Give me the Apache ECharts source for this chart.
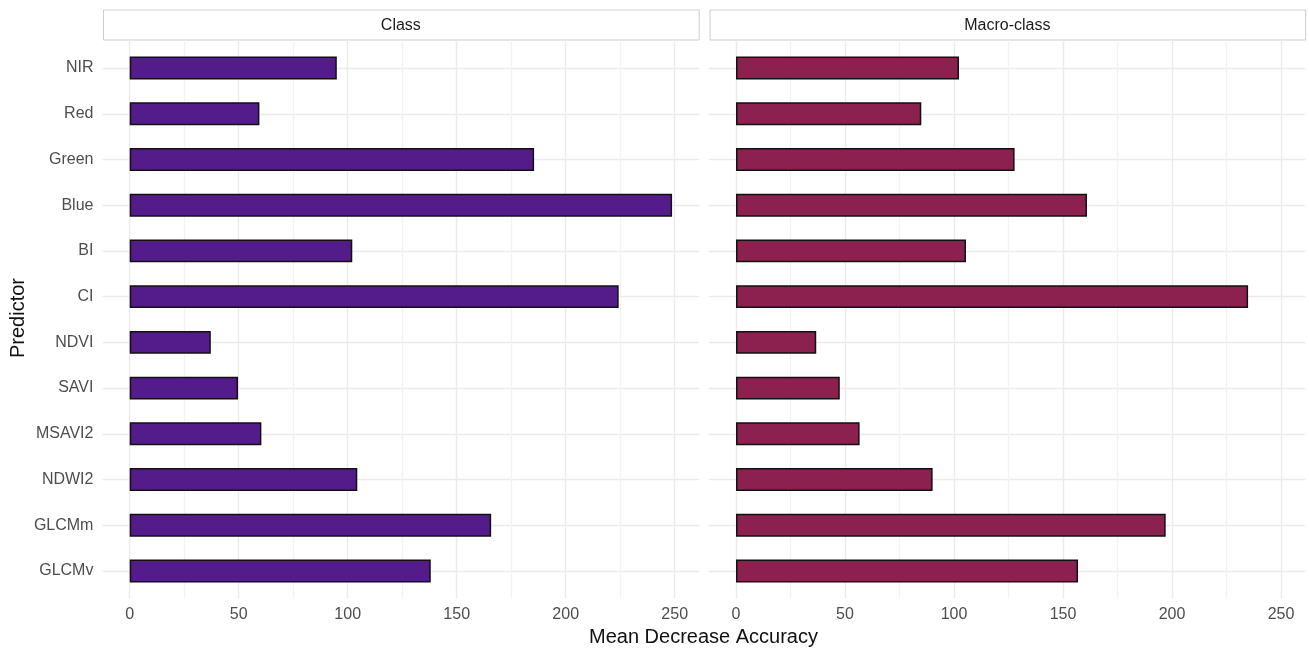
<!DOCTYPE html>
<html>
<head>
<meta charset="utf-8">
<script src="https://cdn.jsdelivr.net/npm/echarts@6/dist/echarts.min.js"></script>
<style>
  html, body { margin: 0; padding: 0; background: #ffffff; }
  #chart { width: 1309px; height: 651px; }
</style>
</head>
<body>
<div id="chart"></div>
<script>
// Random-forest variable importance, one facet per classification level
const predictors = ['NIR', 'Red', 'Green', 'Blue', 'BI', 'CI', 'NDVI', 'SAVI', 'MSAVI2', 'NDWI2', 'GLCMm', 'GLCMv'];
const classValues = [95.0, 59.5, 185.5, 248.8, 102.1, 224.3, 37.2, 49.7, 60.4, 104.4, 165.8, 138.1];
const macroValues = [102.3, 85.0, 127.8, 161.0, 105.5, 234.9, 36.8, 47.6, 56.7, 90.2, 197.1, 156.9];
const panelTitles = ['Class', 'Macro-class'];
const xTickLabels = [0, 50, 100, 150, 200, 250];
const barColors = ['#541b8b', '#8c204f'];

const FONT = '"Liberation Sans", Arial, sans-serif';
const X_MIN = -12.5, X_MAX = 261.25, X_STEP = 12.5;
const PX_PER_UNIT = 2.18;
const PANEL_W = (X_MAX - X_MIN) * PX_PER_UNIT;
const panelLeft = [102.45, 708.75];
const FRAME_TOP = 40.6, FRAME_H = 557.8;
// discrete scale: n bands plus 0.6 band of padding on each side of the outer centres
const BAND = FRAME_H / (predictors.length - 1 + 1.2);
const BAR_TOP = FRAME_TOP + 0.1 * BAND, BAR_H = predictors.length * BAND;

// grid line styling: every 12.5 units -> [hidden, major, hidden, minor]
const vLineColors = ['rgba(0,0,0,0)', '#ebebeb', 'rgba(0,0,0,0)', '#f3f3f3'];
// horizontal guides every 1/5 of a band, shown only at band centres
const hLineColors = ['rgba(0,0,0,0)', 'rgba(0,0,0,0)', 'rgba(0,0,0,0)', '#ebebeb', 'rgba(0,0,0,0)'];

const grids = [], xAxes = [], yAxes = [], series = [];

[0, 1].forEach(function (p) {
  const seriesValues = p === 0 ? classValues : macroValues;
  // background frame holding the panel grid lines and x tick labels
  grids.push({ left: panelLeft[p], top: FRAME_TOP, width: PANEL_W, height: FRAME_H, containLabel: false });
  // bar area: one band per predictor
  grids.push({ left: panelLeft[p], top: BAR_TOP, width: PANEL_W, height: BAR_H, containLabel: false });
  const gFrame = p * 2, gBar = p * 2 + 1;

  xAxes.push({
    type: 'value', gridIndex: gFrame, min: X_MIN, max: X_MAX, interval: X_STEP,
    axisLine: { show: false }, axisTick: { show: false },
    axisLabel: {
      color: '#4d4d4d', fontSize: 16, fontFamily: FONT, margin: 8,
      showMinLabel: true, showMaxLabel: true,
      formatter: function (v) { return xTickLabels.indexOf(Math.round(v * 100) / 100) >= 0 ? String(Math.round(v)) : ''; }
    },
    splitLine: { show: true, lineStyle: { color: vLineColors, width: 1.4 } }
  });
  yAxes.push({
    type: 'value', gridIndex: gFrame, min: -3, max: (predictors.length - 1) * 5 + 3, interval: 1,
    axisLine: { show: false }, axisTick: { show: false }, axisLabel: { show: false },
    splitLine: { show: true, lineStyle: { color: hLineColors, width: 1.4 } }
  });

  xAxes.push({
    type: 'value', gridIndex: gBar, min: X_MIN, max: X_MAX, show: false,
    splitLine: { show: false }
  });
  yAxes.push({
    type: 'category', gridIndex: gBar, data: predictors, inverse: true,
    axisLine: { show: false }, axisTick: { show: false }, splitLine: { show: false },
    axisLabel: { show: p === 0, color: '#4d4d4d', fontSize: 16, fontFamily: FONT, margin: 9 }
  });

  series.push({
    type: 'bar', name: panelTitles[p], xAxisIndex: gBar, yAxisIndex: gBar,
    data: seriesValues, barWidth: '50%', silent: true, animation: false,
    itemStyle: { color: barColors[p], borderColor: '#111111', borderWidth: 1.5 }
  });
});

const stripGraphics = [];
const stripX = [103, 709.5], stripW = 595.7;
[0, 1].forEach(function (p) {
  stripGraphics.push({
    type: 'rect', left: stripX[p], top: 9.5,
    shape: { width: stripW, height: 30 },
    style: { fill: '#ffffff', stroke: '#cccccc', lineWidth: 1 }
  });
  stripGraphics.push({
    type: 'text', x: stripX[p] + stripW / 2, y: 25.5,
    style: { text: panelTitles[p], fill: '#1a1a1a', font: '16px ' + FONT, textAlign: 'center', textVerticalAlign: 'middle' }
  });
});
stripGraphics.push({
  type: 'text', x: 703.5, y: 637,
  style: { text: 'Mean Decrease Accuracy', fill: '#111111', font: '20px ' + FONT, textAlign: 'center', textVerticalAlign: 'middle' }
});
stripGraphics.push({
  type: 'text', x: 18, y: 318, rotation: Math.PI / 2,
  style: { text: 'Predictor', fill: '#111111', font: '20px ' + FONT, textAlign: 'center', textVerticalAlign: 'middle' }
});

const chart = echarts.init(document.getElementById('chart'), null, { renderer: 'canvas' });
chart.setOption({
  backgroundColor: '#ffffff',
  animation: false,
  grid: grids,
  xAxis: xAxes,
  yAxis: yAxes,
  series: series,
  graphic: stripGraphics
});
</script>
</body>
</html>
